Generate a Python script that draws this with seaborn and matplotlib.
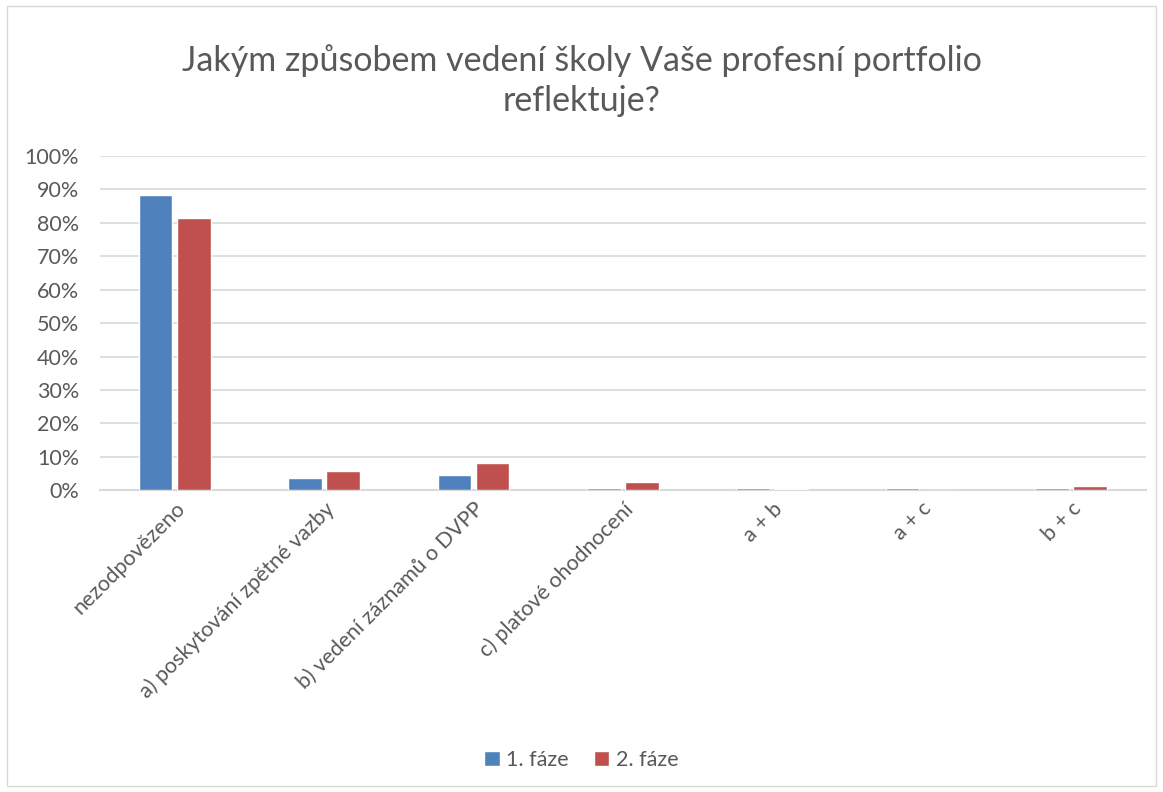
import matplotlib
matplotlib.use("Agg")
import matplotlib.pyplot as plt
import seaborn as sns
import pandas as pd
from matplotlib.patches import Rectangle
from matplotlib.ticker import PercentFormatter, MultipleLocator

categories = ["nezodpovězeno", "a) poskytování zpětné vazby", "b) vedení záznamů o DVPP",
              "c) platové ohodnocení", "a + b", "a + c", "b + c"]
phases = ["1. fáze", "2. fáze"]
faze1 = [88.4, 3.7, 4.5, 0.8, 0.8, 0.8, 0.8]
faze2 = [81.6, 5.9, 8.3, 2.5, 0.5, 0.0, 1.2]

df = pd.DataFrame({
    "kategorie": categories * 2,
    "fáze": [phases[0]] * len(categories) + [phases[1]] * len(categories),
    "podíl": faze1 + faze2,
})

sns.set_theme(style="white")
plt.rcParams["font.family"] = ["Lato", "DejaVu Sans"]
text_color = "#595959"

fig = plt.figure(figsize=(11.63, 7.92), dpi=100)
ax = fig.add_axes([0.086, 0.381, 0.899, 0.422])

sns.barplot(data=df, x="kategorie", y="podíl", hue="fáze", order=categories,
            hue_order=phases, palette=["#4F81BD", "#C0504D"], saturation=1,
            width=0.51, gap=0.12, ax=ax, legend=True, zorder=3)

ax.set_ylim(0, 100)
ax.yaxis.set_major_locator(MultipleLocator(10))
ax.yaxis.set_major_formatter(PercentFormatter(decimals=0))
ax.grid(axis="y", color="#D9D9D9", linewidth=1.2)
ax.set_axisbelow(True)
for s in ["top", "right", "left"]:
    ax.spines[s].set_visible(False)
ax.spines["bottom"].set_color("#D9D9D9")
ax.spines["bottom"].set_linewidth(1.5)
ax.spines["bottom"].set_zorder(0.6)
ax.set_xlabel("")
ax.set_ylabel("")
ax.tick_params(axis="both", length=0, colors=text_color, labelsize=15.5)
ax.tick_params(axis="y", pad=15)
ax.tick_params(axis="x", pad=6)
plt.setp(ax.get_xticklabels(), rotation=45, ha="right", rotation_mode="anchor")

handles, labels = ax.get_legend_handles_labels()
ax.get_legend().remove()
fig.legend(handles, labels, loc="center", bbox_to_anchor=(0.5, 0.04), ncol=2,
           frameon=False, fontsize=15.5, labelcolor=text_color, handlelength=0.7,
           handleheight=0.7, handletextpad=0.3, columnspacing=1.2)

fig.text(0.5, 0.898, "Jakým způsobem vedení školy Vaše profesní portfolio\nreflektuje?",
         ha="center", va="center", fontsize=24.5, color=text_color, linespacing=1.3)

fig.patches.append(Rectangle((0.006, 0.008), 0.988, 0.984, transform=fig.transFigure,
                             fill=False, edgecolor="#D9D9D9", linewidth=1))

fig.savefig("out.png", dpi=100)
